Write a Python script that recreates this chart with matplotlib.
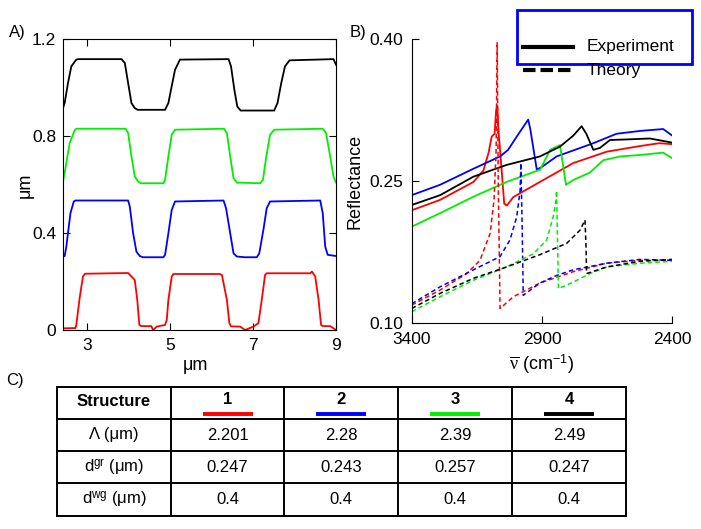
import numpy as np
import matplotlib
matplotlib.use('Agg')
import matplotlib.pyplot as plt
from matplotlib.lines import Line2D
from matplotlib.patches import Rectangle

plt.rcParams['font.family'] = ['Liberation Sans', 'DejaVu Sans']
plt.rcParams['mathtext.fontset'] = 'custom'
plt.rcParams['mathtext.rm'] = 'Liberation Sans'
plt.rcParams['mathtext.it'] = 'Liberation Serif'

W, H = 701, 529
colors = ['#ff0000', '#0000ff', '#00ee00', '#000000']

# ---- panel A: surface profiles (um) ----
xA_red = [2.42, 2.72, 2.74, 2.82, 2.90, 2.95, 3.99, 4.15, 4.21, 4.26, 4.30, 4.55, 4.59, 4.68, 4.88,
          4.92, 4.96, 5.04, 5.08, 6.20, 6.25, 6.37, 6.43, 6.47, 6.69, 6.81, 7.01, 7.13, 7.21, 7.29,
          7.33, 8.38, 8.42, 8.50, 8.58, 8.64, 8.68, 8.86, 9.0]
yA_red = [0.007, 0.008, 0.02, 0.13, 0.22, 0.232, 0.235, 0.206, 0.124, 0.021, 0.016, 0.016, 0.0,
          0.014, 0.021, 0.041, 0.124, 0.22, 0.231, 0.231, 0.227, 0.124, 0.028, 0.015, 0.014, 0.0,
          0.014, 0.028, 0.124, 0.227, 0.234, 0.234, 0.241, 0.22, 0.124, 0.021, 0.016, 0.016, 0.0]

xA_blue = [2.42, 2.46, 2.50, 2.60, 2.68, 2.72, 3.99, 4.03, 4.11, 4.19, 4.27, 4.35, 4.84, 4.88,
           4.96, 5.04, 5.12, 6.29, 6.35, 6.45, 6.53, 6.61, 6.80, 7.09, 7.15, 7.25, 7.33, 7.41,
           8.62, 8.68, 8.74, 8.80, 9.0]
yA_blue = [0.303, 0.305, 0.344, 0.482, 0.530, 0.534, 0.534, 0.509, 0.399, 0.323, 0.305, 0.300,
           0.300, 0.310, 0.399, 0.495, 0.530, 0.534, 0.502, 0.399, 0.316, 0.303, 0.300, 0.300,
           0.316, 0.413, 0.502, 0.530, 0.534, 0.482, 0.344, 0.310, 0.305]

xA_green = [2.42, 2.46, 2.58, 2.70, 2.74, 3.93, 3.99, 4.07, 4.15, 4.23, 4.30, 4.84, 4.88, 4.96,
            5.04, 5.12, 6.30, 6.37, 6.45, 6.53, 6.61, 7.17, 7.24, 7.32, 7.41, 7.51, 8.68, 8.76,
            8.86, 8.94, 9.0]
yA_green = [0.612, 0.647, 0.771, 0.823, 0.830, 0.830, 0.812, 0.716, 0.633, 0.612, 0.605, 0.605,
            0.619, 0.716, 0.805, 0.826, 0.830, 0.812, 0.716, 0.626, 0.608, 0.605, 0.619, 0.716,
            0.805, 0.826, 0.830, 0.812, 0.716, 0.633, 0.608]

xA_black = [2.42, 2.46, 2.54, 2.62, 2.74, 2.80, 3.83, 3.91, 3.99, 4.07, 4.15, 4.22, 4.88, 4.96,
            5.04, 5.12, 5.24, 6.41, 6.47, 6.55, 6.62, 6.70, 7.51, 7.59, 7.68, 7.77, 7.88, 8.94, 9.0]
yA_black = [0.915, 0.936, 1.018, 1.087, 1.115, 1.117, 1.117, 1.101, 1.018, 0.936, 0.915, 0.908,
            0.908, 0.936, 1.005, 1.073, 1.115, 1.117, 1.087, 0.991, 0.922, 0.905, 0.905, 0.936,
            1.018, 1.087, 1.112, 1.117, 1.094]

# ---- panel B: reflectance spectra ----
wn_exp1 = [3400, 3291, 3163, 3125, 3105, 3093, 3082, 3076, 3072, 3066, 3055, 3045, 3035, 3010,
           2908, 2780, 2652, 2524, 2450, 2400]
R_exp1 = [0.219, 0.230, 0.249, 0.261, 0.280, 0.297, 0.300, 0.325, 0.330, 0.300, 0.262, 0.226,
          0.224, 0.233, 0.249, 0.269, 0.281, 0.287, 0.290, 0.289]
wn_exp2 = [3400, 3291, 3163, 3061, 3030, 2997, 2970, 2953, 2945, 2920, 2900, 2844, 2703, 2614,
           2524, 2435, 2400]
R_exp2 = [0.235, 0.246, 0.263, 0.276, 0.283, 0.297, 0.308, 0.315, 0.305, 0.262, 0.265, 0.276,
          0.290, 0.300, 0.303, 0.305, 0.298]
wn_exp3 = [3400, 3291, 3163, 3036, 2907, 2869, 2831, 2808, 2780, 2716, 2665, 2600, 2524, 2473,
           2435, 2400]
R_exp3 = [0.2016, 0.216, 0.2334, 0.249, 0.262, 0.283, 0.288, 0.246, 0.251, 0.259, 0.272, 0.276,
          0.2775, 0.279, 0.280, 0.274]
wn_exp4 = [3400, 3291, 3163, 3036, 2908, 2831, 2780, 2748, 2730, 2703, 2678, 2639, 2575, 2486, 2400]
R_exp4 = [0.2246, 0.235, 0.2546, 0.267, 0.276, 0.2864, 0.298, 0.308, 0.300, 0.283, 0.285, 0.2934,
          0.294, 0.295, 0.2906]

wn_th1 = [3400, 3291, 3189, 3138, 3099, 3084, 3076, 3072, 3068, 3061, 3010, 2908, 2780, 2652, 2524, 2400]
R_th1 = [0.1186, 0.1346, 0.152, 0.166, 0.1946, 0.230, 0.283, 0.397, 0.250, 0.115, 0.1275, 0.142,
         0.154, 0.163, 0.166, 0.166]
wn_th2 = [3400, 3291, 3163, 3061, 3023, 2997, 2984, 2981, 2976, 2972, 2908, 2844, 2780, 2652, 2524, 2400]
R_th2 = [0.120, 0.138, 0.156, 0.170, 0.1875, 0.212, 0.240, 0.269, 0.200, 0.129, 0.142, 0.150,
         0.156, 0.163, 0.167, 0.166]
wn_th3 = [3400, 3291, 3163, 3036, 2933, 2882, 2857, 2846, 2844, 2840, 2837, 2780, 2716, 2652, 2524, 2400]
R_th3 = [0.1116, 0.1275, 0.145, 0.159, 0.173, 0.1875, 0.2122, 0.230, 0.240, 0.180, 0.136, 0.143,
         0.152, 0.159, 0.163, 0.165]
wn_th4 = [3400, 3291, 3163, 3036, 2908, 2805, 2754, 2735, 2731, 2729, 2652, 2524, 2400]
R_th4 = [0.115, 0.131, 0.147, 0.159, 0.172, 0.184, 0.198, 0.2087, 0.180, 0.152, 0.159, 0.165, 0.167]

# ---- panel C: table ----
structures = ['1', '2', '3', '4']
row_labels = ['Λ (μm)', 'd$^{\\mathrm{gr}}$ (μm)', 'd$^{\\mathrm{wg}}$ (μm)']
period = ['2.201', '2.28', '2.39', '2.49']
d_gr = ['0.247', '0.243', '0.257', '0.247']
d_wg = ['0.4', '0.4', '0.4', '0.4']


def fx(x):
    return x / W


def fy(y):
    return 1 - y / H


fig = plt.figure(figsize=(7.01, 5.29), dpi=100)

# panel A
axA = fig.add_axes([fx(63), fy(330), fx(336) - fx(63), fy(39) - fy(330)])
axA.plot(xA_red, yA_red, color=colors[0], lw=1.3)
axA.plot(xA_blue, yA_blue, color=colors[1], lw=1.3)
axA.plot(xA_green, yA_green, color=colors[2], lw=1.3)
axA.plot(xA_black, yA_black, color=colors[3], lw=1.3)
axA.set_xlim(2.42, 9)
axA.set_ylim(0, 1.2)
axA.set_xticks([3, 5, 7, 9])
axA.set_yticks([0, 0.4, 0.8, 1.2])
axA.set_yticklabels(['0', '0.4', '0.8', '1.2'])
axA.tick_params(direction='in', top=True, right=True, length=5, labelsize=12.5, pad=5)
axA.tick_params(axis='x', pad=6)

# panel B
axB = fig.add_axes([fx(411.7), fy(322.7), fx(672.3) - fx(411.7), fy(39.3) - fy(322.7)])
for wn, R, c in zip([wn_exp1, wn_exp2, wn_exp3, wn_exp4], [R_exp1, R_exp2, R_exp3, R_exp4], colors):
    axB.plot(wn, R, color=c, lw=1.3)
for wn, R, c in zip([wn_th1, wn_th2, wn_th3, wn_th4], [R_th1, R_th2, R_th3, R_th4], colors):
    axB.plot(wn, R, color=c, lw=1.1, dashes=(3, 2))
axB.set_xlim(3400, 2400)
axB.set_ylim(0.10, 0.40)
axB.set_xticks([3400, 2900, 2400])
axB.set_yticks([0.10, 0.25, 0.40])
axB.set_yticklabels(['0.10', '0.25', '0.40'])
axB.spines['top'].set_visible(False)
axB.spines['right'].set_visible(False)
axB.tick_params(direction='in', length=5, labelsize=12.5, pad=6)
axB.tick_params(axis='x', pad=7)

# labels
fig.text(fx(17), fy(33), 'A)', fontsize=12, ha='center', va='center')
fig.text(fx(358), fy(32), 'B)', fontsize=12, ha='center', va='center')
fig.text(fx(15), fy(380), 'C)', fontsize=12, ha='center', va='center')
fig.text(fx(195), fy(366), 'μm', fontsize=13, ha='center', va='center')
fig.text(fx(25), fy(185), 'μm', fontsize=13, ha='center', va='center', rotation=90)
fig.text(fx(355), fy(181), 'Reflectance', fontsize=13, ha='center', va='center', rotation=90)
fig.text(fx(542), fy(364), r'$\overline{\mathit{\nu}}$ (cm$^{-1}$)', fontsize=13,
         ha='center', va='center')

# legend of panel B (overlay)
ov = fig.add_axes([0, 0, 1, 1], zorder=5)
ov.set_xlim(0, W)
ov.set_ylim(H, 0)
ov.axis('off')
ov.add_line(Line2D([523, 573], [47, 47], color='k', lw=3))
ov.add_line(Line2D([523, 573], [70, 70], color='k', lw=3, dashes=(3, 1.2)))
ov.text(587, 47, 'Experiment', fontsize=12.5, va='center')
ov.text(587, 70, 'Theory', fontsize=12.5, va='center')
ov.add_patch(Rectangle((517, 10), 175, 54, fill=False, edgecolor='#0000ff', lw=2))

# table
col_edges = [57, 171, 284, 398, 512, 626]
row_edges = [387, 419, 451, 483, 516]
for xe in col_edges:
    ov.add_line(Line2D([xe, xe], [row_edges[0], row_edges[-1]], color='k', lw=1.4))
for ye in row_edges:
    ov.add_line(Line2D([col_edges[0], col_edges[-1]], [ye, ye], color='k', lw=1.4))
ov.text((col_edges[0] + col_edges[1]) / 2, 401, 'Structure', fontsize=12, fontweight='bold',
        ha='center', va='center')
for i, s in enumerate(structures):
    cx = (col_edges[i + 1] + col_edges[i + 2]) / 2
    ov.text(cx, 400, s, fontsize=12, fontweight='bold', ha='center', va='center')
    ov.add_line(Line2D([cx - 25, cx + 25], [414, 414], color=colors[i], lw=2.8,
                       solid_capstyle='butt'))
for r, (lab, vals) in enumerate(zip(row_labels, [period, d_gr, d_wg])):
    cy = (row_edges[r + 1] + row_edges[r + 2]) / 2
    ov.text((col_edges[0] + col_edges[1]) / 2, cy, lab, fontsize=12, ha='center', va='center')
    for i, v in enumerate(vals):
        cx = (col_edges[i + 1] + col_edges[i + 2]) / 2
        ov.text(cx, cy, v, fontsize=12, ha='center', va='center')

fig.savefig('out.png', dpi=100)
